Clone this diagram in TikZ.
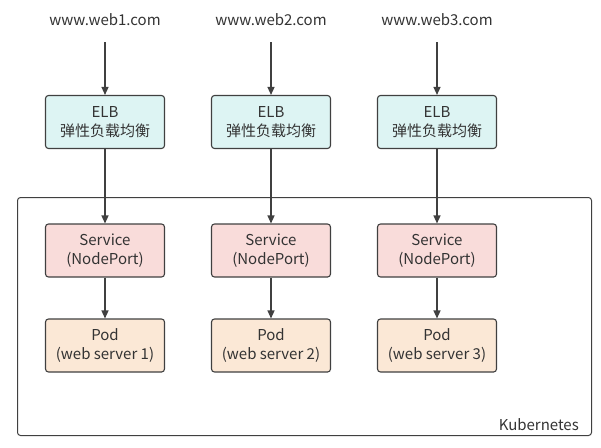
\documentclass[tikz,border=0pt]{standalone}
\usepackage{fontspec}
\setmainfont{Noto Sans CJK SC}
\usetikzlibrary{arrows.meta}
\definecolor{elbfill}{HTML}{DDF4F3}
\definecolor{svcfill}{HTML}{F9DCDA}
\definecolor{podfill}{HTML}{FBE8D6}
\definecolor{edge}{HTML}{404040}
\definecolor{txt}{HTML}{333333}
\begin{document}
\begin{tikzpicture}[x=1pt,y=-1pt,
  box/.style={draw=edge,line width=1.1pt,rounded corners=3pt,minimum width=119pt,minimum height=53pt,align=center,text=txt,font=\fontsize{15}{19}\selectfont,inner sep=0pt},
  elb/.style={box,fill=elbfill},
  svc/.style={box,fill=svcfill},
  pod/.style={box,fill=podfill},
  url/.style={text=txt,font=\fontsize{15}{17}\selectfont},
  arr/.style={draw=edge,line width=1.3pt,-{Triangle[length=8pt,width=7pt]}}]
\useasboundingbox (0,0) rectangle (601,447);
\node[draw=edge,line width=1pt,rounded corners=3pt,minimum width=574pt,minimum height=238pt,inner sep=0pt,anchor=north west] (k8s) at (17,197) {};
\node[anchor=south east,text=txt,font=\fontsize{15}{17}\selectfont,inner sep=2pt] (klabel) at (581,433) {Kubernetes};
\foreach \i/\x in {1/105,2/271,3/437}{
  \node[url] (u\i) at (\x,20) {www.web\i.com};
  \node[elb] (e\i) at (\x,122) {ELB\\弹性负载均衡};
  \node[svc] (s\i) at (\x,250.5) {Service\\(NodePort)};
  \node[pod] (p\i) at (\x,345.5) {Pod\\(web server \i)};
  \draw[arr] (\x,42) -- (e\i.north);
  \draw[arr] (e\i.south) -- (s\i.north);
  \draw[arr] (s\i.south) -- (p\i.north);
}
\end{tikzpicture}
\end{document}
